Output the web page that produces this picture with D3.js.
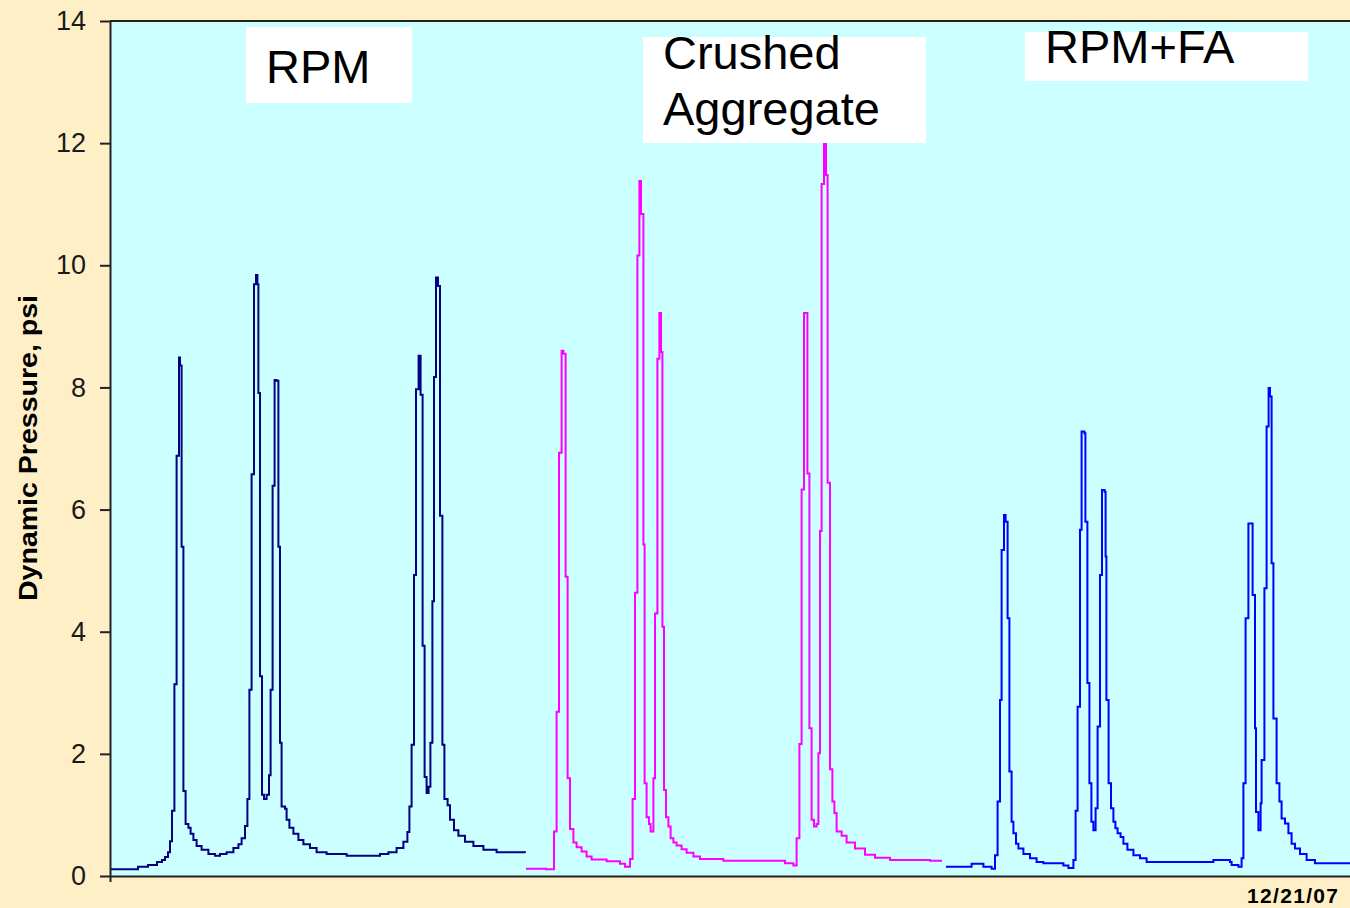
<!DOCTYPE html>
<html>
<head>
<meta charset="utf-8">
<script src="https://cdn.jsdelivr.net/npm/d3@7"></script>
<style>
  body { margin: 0; background: #FFEFC6; }
  svg { display: block; }
</style>
</head>
<body>
<div id="graph"></div>
<script>
// readings: [time, dynamic pressure psi]
var rpm = [
  [0,0.11],[14,0.15],[19,0.18],[23.5,0.23],[26,0.26],[27.5,0.31],[29,0.39],[30,0.57],[31,1.07],
  [32.2,3.14],[33.3,6.88],[34.5,8.49],[35,8.36],[35.8,5.39],[36.7,1.39],[37.8,0.85],[39.2,0.79],
  [40.3,0.69],[41.7,0.59],[43.3,0.49],[45.8,0.43],[49.2,0.36],[52.5,0.33],[55,0.36],[58.3,0.39],
  [61.7,0.46],[64.2,0.52],[65.8,0.62],[67.5,0.82],[68.7,1.26],[69.7,3.05],[70.8,6.58],[72,9.69],
  [73,9.84],[73.7,9.69],[74.2,7.91],[75,3.27],[76,1.33],[77,1.26],[78.3,1.33],[79.5,1.65],
  [80.3,3.05],[81.3,6.39],[82.3,8.12],[83.3,8.11],[84.2,5.39],[85,2.18],[85.8,1.14],[87.5,1.10],
  [88.3,0.92],[89.7,0.79],[91.7,0.69],[94.2,0.59],[96.7,0.52],[100,0.46],[103.3,0.39],[108.3,0.36],
  [118.3,0.33],[135,0.36],[139.2,0.39],[143.3,0.46],[146.7,0.56],[148.7,0.72],[149.7,1.14],
  [150.8,2.15],[152,4.93],[153,7.97],[154.3,8.52],[155.3,7.88],[156.3,3.77],[157.3,1.62],
  [158.3,1.36],[159.3,1.46],[160.2,2.18],[161.2,4.50],[162,8.17],[163,9.80],[164,9.66],[165,5.90],
  [166.2,2.15],[167.2,1.26],[168.8,1.16],[170,0.92],[172,0.75],[174.2,0.66],[177.5,0.56],
  [181.7,0.49],[186.7,0.43],[193.3,0.39],[207.5,0.38]
];

var crushed = [
  [208,0.12],[218,0.11],[222,0.73],[223.3,2.69],[224.5,6.93],[225.8,8.60],[226.7,8.55],[227.8,4.90],
  [228.8,1.60],[230,0.77],[231.7,0.55],[233.3,0.47],[235.8,0.40],[238.3,0.32],[240.8,0.27],
  [248.3,0.24],[255,0.20],[257.5,0.15],[260,0.28],[261.3,1.26],[262.5,4.64],[263.7,10.16],
  [264.7,11.38],[265.5,10.84],[266.7,5.43],[267.3,1.52],[268.3,0.96],[269.5,0.85],[270.3,0.73],
  [271.7,1.60],[272.5,4.30],[273.7,8.47],[274.7,9.22],[275.5,8.58],[276.2,4.08],[277,1.41],
  [278,0.96],[279.2,0.81],[280.3,0.62],[281.7,0.55],[283.3,0.50],[285.8,0.44],[288.3,0.38],
  [291.7,0.32],[295,0.28],[306.7,0.25],[337.5,0.21],[341.7,0.17],[343.3,0.62],[344.7,2.16],
  [345.8,6.33],[347,9.22],[348.7,6.59],[349.7,2.42],[350.8,0.92],[352,0.81],[353.3,0.85],
  [354.2,2.01],[355,5.65],[355.8,11.33],[357,12.0],[358,11.48],[358.8,6.44],[360,1.75],
  [361.2,1.22],[362.2,1.03],[363.3,0.73],[365.8,0.66],[368.3,0.55],[372.5,0.45],[377.5,0.35],
  [382.5,0.30],[390,0.26],[410,0.25],[416,0.25]
];

var rpmFa = [
  [418,0.15],[430.8,0.20],[436.7,0.15],[440.8,0.12],[442.5,0.34],[443.8,1.22],[445,2.88],
  [445.8,5.34],[447,5.91],[447.8,5.80],[448.8,4.22],[449.7,1.71],[450.8,0.89],[451.7,0.70],
  [453,0.53],[454.2,0.45],[456.7,0.36],[460,0.29],[463.3,0.23],[466.7,0.21],[476.7,0.17],
  [479.2,0.13],[481.7,0.26],[482.8,1.07],[483.8,2.77],[485,5.67],[485.8,7.28],[487.2,7.25],
  [487.7,5.80],[488.7,3.16],[489.7,1.52],[490.7,0.89],[491.7,0.75],[492.8,1.11],[493.8,2.45],
  [495,4.93],[496,6.32],[497.3,6.29],[497.8,5.23],[498.2,2.88],[499.3,1.52],[500.5,1.11],
  [501.7,0.89],[502.7,0.78],[503.8,0.70],[505.3,0.64],[506.7,0.53],[508.7,0.43],[511.7,0.34],
  [515,0.29],[518.3,0.23],[551.7,0.26],[560,0.23],[560.8,0.18],[564.2,0.15],[565.8,0.29],
  [566.7,1.52],[567.8,4.22],[569.2,5.77],[571.3,4.60],[572.5,2.42],[573,1.05],[574.2,0.75],
  [575.3,1.19],[575.8,1.90],[577.2,4.71],[578.3,7.36],[579.3,7.99],[580,7.85],[580.8,5.12],
  [581.7,2.58],[583.3,1.52],[584.7,1.22],[585.8,0.94],[587.5,0.86],[589.2,0.70],[590.8,0.53],
  [592.5,0.45],[595,0.36],[598.3,0.26],[602.5,0.21],[620,0.21]
];

var yTicks = [0, 2, 4, 6, 8, 10, 12, 14];
var dateLabel = "12/21/07";
var yTitle = "Dynamic Pressure, psi";

// set the dimensions and margins of the graph
var margin = {top: 21, right: 0, bottom: 32, left: 110},
    width = 1350 - margin.left - margin.right,
    height = 908 - margin.top - margin.bottom;

var svg = d3.select("#graph")
  .append("svg")
    .attr("width", 1350)
    .attr("height", 908);

svg.append("rect")
    .attr("width", 1350).attr("height", 908)
    .attr("fill", "#FFEFC6");

var g = svg.append("g")
    .attr("transform", "translate(" + margin.left + "," + margin.top + ")");

var x = d3.scaleLinear().domain([0, 620]).range([0, width]);
var y = d3.scaleLinear().domain([0, 14]).range([height, 0]);

// plot area
g.append("rect")
    .attr("width", width).attr("height", height)
    .attr("fill", "#CCFFFF");

// top border
g.append("line")
    .attr("x1", 0).attr("x2", width)
    .attr("y1", 0).attr("y2", 0)
    .attr("stroke", "#222").attr("stroke-width", 2);

// text boxes
var boxes = [
  {x: 246, y: 27, w: 166, h: 76, lines: ["RPM"], base: 83},
  {x: 643, y: 37, w: 283, h: 106, lines: ["Crushed", "Aggregate"], base: 69},
  {x: 1025, y: 32, w: 283, h: 49, lines: ["RPM+FA"], base: 63}
];
boxes.forEach(function(b) {
  svg.append("rect")
      .attr("x", b.x).attr("y", b.y)
      .attr("width", b.w).attr("height", b.h)
      .attr("fill", "#fff");
  b.lines.forEach(function(s, i) {
    svg.append("text")
        .attr("x", b.x + 20)
        .attr("y", b.base + i * 56)
        .attr("font-family", "Liberation Sans, Arial, sans-serif")
        .attr("font-size", "47px")
        .attr("fill", "#000")
        .text(s);
  });
});

// Add the lines
var line = d3.line()
    .curve(d3.curveStepAfter)
    .x(function(d) { return x(d[0]); })
    .y(function(d) { return y(d[1]); });

[[rpm, "#000080"], [crushed, "#FF00FF"], [rpmFa, "#0000FF"]].forEach(function(s) {
  g.append("path")
      .datum(s[0])
      .attr("fill", "none")
      .attr("stroke", s[1])
      .attr("stroke-width", 2)
      .attr("d", line);
});

// Y axis
var yAxis = g.append("g")
    .call(d3.axisLeft(y).tickValues(yTicks).tickSize(10).tickPadding(14).tickSizeOuter(0));
yAxis.select(".domain").attr("stroke", "#222").attr("stroke-width", 2);
yAxis.selectAll(".tick line").attr("stroke", "#222").attr("stroke-width", 2);
yAxis.selectAll(".tick text")
    .attr("font-family", "Liberation Sans, Arial, sans-serif")
    .attr("font-size", "27px")
    .attr("fill", "#1a1a1a");

// X axis
var xAxis = g.append("g")
    .attr("transform", "translate(0," + height + ")")
    .call(d3.axisBottom(x).tickValues([0]).tickSize(6).tickFormat("").tickSizeOuter(0));
xAxis.select(".domain").attr("stroke", "#222").attr("stroke-width", 2);
xAxis.selectAll(".tick line").attr("stroke", "#222").attr("stroke-width", 2);

g.append("text")
    .attr("x", x(620) - 12)
    .attr("y", height + 27)
    .attr("text-anchor", "end")
    .attr("font-family", "Liberation Sans, Arial, sans-serif")
    .attr("font-weight", "bold")
    .attr("font-size", "21px")
    .attr("textLength", 91)
    .attr("fill", "#000")
    .text(dateLabel);

// Y title
svg.append("text")
    .attr("transform", "translate(37,448) rotate(-90)")
    .attr("text-anchor", "middle")
    .attr("font-family", "Liberation Sans, Arial, sans-serif")
    .attr("font-weight", "bold")
    .attr("font-size", "26px")
    .attr("textLength", 306)
    .attr("lengthAdjust", "spacingAndGlyphs")
    .attr("fill", "#000")
    .text(yTitle);
</script>
</body>
</html>
